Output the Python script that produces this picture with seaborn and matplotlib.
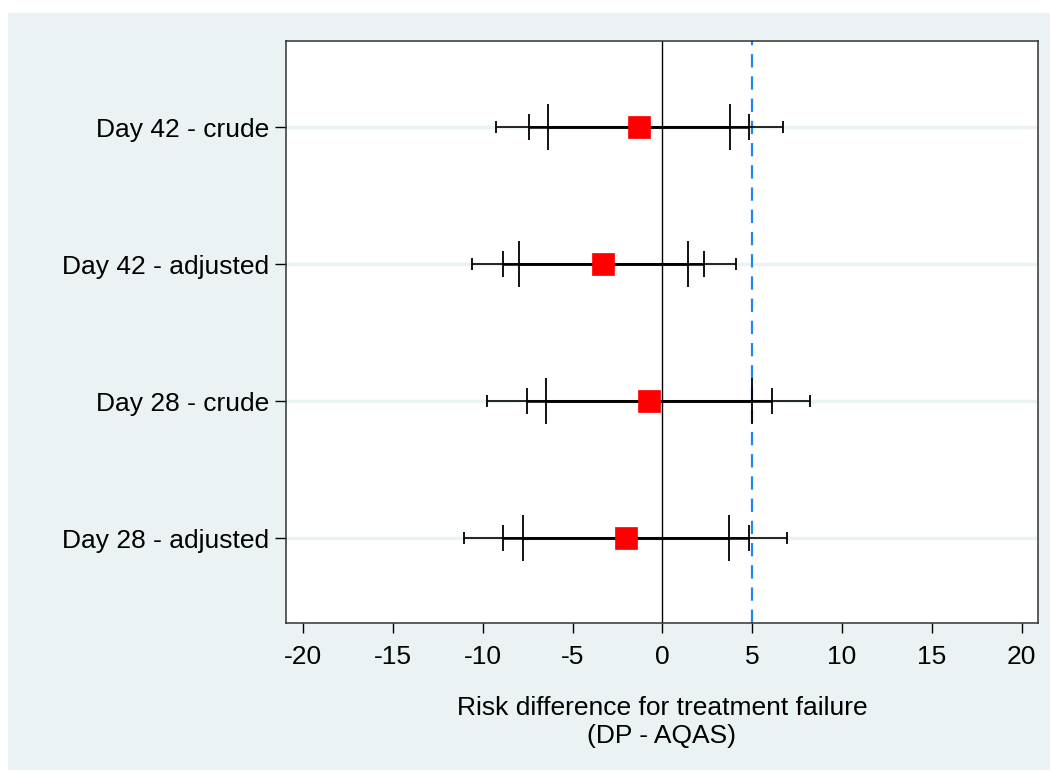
import numpy as np
import pandas as pd
import seaborn as sns
import matplotlib
matplotlib.use("Agg")
from matplotlib import pyplot as plt
from matplotlib.patches import Rectangle

# values
rows = ["Day 42 - crude", "Day 42 - adjusted", "Day 28 - crude", "Day 28 - adjusted"]
est = [-1.30, -3.29, -0.72, -2.05]
lo90 = [-6.37, -7.96, -6.47, -7.78]
hi90 = [3.76, 1.40, 5.01, 3.72]
lo95 = [-7.41, -8.90, -7.56, -8.88]
hi95 = [4.82, 2.29, 6.11, 4.82]
lo99 = [-9.27, -10.57, -9.79, -11.06]
hi99 = [6.71, 4.10, 8.21, 6.96]
xticks = [-20, -15, -10, -5, 0, 5, 10, 15, 20]
margin = 5

df = pd.DataFrame({'row': rows, 'pos': range(len(rows)), 'est': est,
                   'lo90': lo90, 'hi90': hi90, 'lo95': lo95, 'hi95': hi95,
                   'lo99': lo99, 'hi99': hi99})

sns.set_style("white")
plt.rcParams['font.family'] = ['Liberation Sans', 'DejaVu Sans']
plt.rcParams['font.size'] = 19
plt.rcParams['axes.labelcolor'] = 'black'
plt.rcParams['text.color'] = 'black'

bg = '#eaf2f3'
fig = plt.figure(figsize=(10.51, 7.71), dpi=100, facecolor='white')
fig.patches.append(Rectangle((8 / 1051, 1 / 771), 1042 / 1051, 757 / 771,
                             transform=fig.transFigure, facecolor=bg,
                             edgecolor='none', zorder=-10))
ax = fig.add_axes([0.2721, 0.1920, 0.7155, 0.7552])
ax.set_facecolor('white')

# light row lines
for p in df['pos']:
    ax.axhline(p, color=bg, lw=2.5, zorder=0)

ax.axvline(0, color='black', lw=1.0, zorder=1)
ax.axvline(margin, color='#1e88f0', lw=1.6, ls=(0, (6, 4)), zorder=1)

# CI bars: 99% (short caps), 95%, 90% (long caps)
for lo, hi, half, lw in [('lo99', 'hi99', 0.046, 1.2), ('lo95', 'hi95', 0.094, 1.8),
                         ('lo90', 'hi90', 0.165, 1.8)]:
    ax.hlines(df['pos'], df[lo], df[hi], color='black', lw=lw, zorder=2)
    ax.vlines(df[lo], df['pos'] - half, df['pos'] + half, color='black', lw=1.3, zorder=2)
    ax.vlines(df[hi], df['pos'] - half, df['pos'] + half, color='black', lw=1.3, zorder=2)

sns.scatterplot(data=df, x='est', y='pos', marker='s', s=250, color='red',
                edgecolor='red', linewidth=0.5, zorder=3, ax=ax, legend=False)

ax.set_xlim(-20.95, 20.9)
ax.set_ylim(3.62, -0.63)
ax.set_xticks(xticks)
ax.set_xticklabels([str(t) for t in xticks])
ax.set_yticks(df['pos'])
ax.set_yticklabels(rows)
ax.tick_params(axis='x', direction='out', length=7, width=1, pad=9, colors='black', bottom=True)
ax.tick_params(axis='y', direction='out', length=8, width=1, pad=4, colors='black', left=True)
ax.set_ylabel('')
ax.set_xlabel('Risk difference for treatment failure\n(DP - AQAS)', labelpad=19,
              linespacing=1.25, color='black')
for s in ax.spines.values():
    s.set_color('#333333')
    s.set_linewidth(1.1)
    s.set_visible(True)

fig.savefig('out.png', dpi=100, facecolor='white')
